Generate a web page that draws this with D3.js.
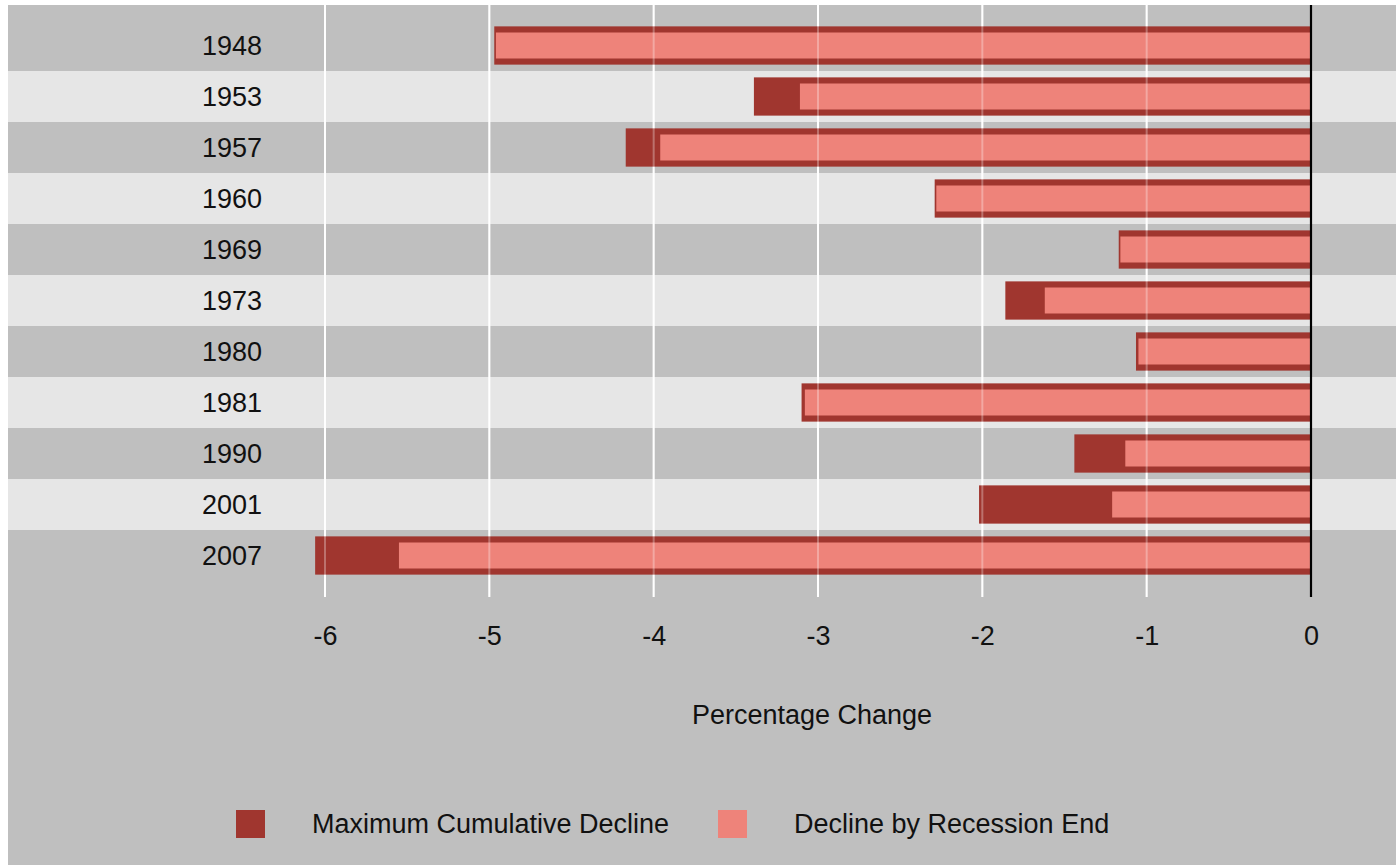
<!DOCTYPE html>
<html>
<head>
<meta charset="utf-8">
<script src="https://cdn.jsdelivr.net/npm/d3@7"></script>
<style>
  body { margin: 0; background: #ffffff; }
  text { font-family: "Liberation Sans", Arial, sans-serif; }
</style>
</head>
<body>
<div id="chart"></div>
<script>
// recession start years, top to bottom
var years = ["1948", "1953", "1957", "1960", "1969", "1973", "1980", "1981", "1990", "2001", "2007"];
// percentage change values
var maxDecline = [-4.97, -3.39, -4.17, -2.29, -1.17, -1.86, -1.065, -3.10, -1.44, -2.02, -6.06];
var endDecline = [-4.96, -3.11, -3.96, -2.28, -1.16, -1.62, -1.05, -3.08, -1.13, -1.21, -5.55];
var xTicks = [-6, -5, -4, -3, -2, -1, 0];
var legendLabels = ["Maximum Cumulative Decline", "Decline by Recession End"];

var width = 1396, height = 865;
var darkRed = "#a0362f", lightRed = "#ee837a";
var fontSize = 27;

var svg = d3.select("#chart").append("svg")
    .attr("width", width)
    .attr("height", height);

// panel background
svg.append("rect")
    .attr("x", 8).attr("y", 5)
    .attr("width", width - 8).attr("height", height - 5)
    .attr("fill", "#bfbfbf");

var x = d3.scaleLinear().domain([-6, 0]).range([325, 1311]);
var y = d3.scaleBand().domain(years).range([20, 581]);

// alternating row bands
svg.selectAll(".band")
    .data(years)
    .enter().append("rect")
    .attr("x", 8)
    .attr("y", function (d) { return y(d); })
    .attr("width", width - 8)
    .attr("height", y.bandwidth())
    .attr("fill", function (d, i) { return i % 2 ? "#e6e6e6" : "#bfbfbf"; });

var gridTicks = xTicks.filter(function (t) { return t !== 0; });

function drawGrid(opacity) {
    svg.append("g").selectAll("line")
        .data(gridTicks)
        .enter().append("line")
        .attr("x1", function (d) { return x(d); })
        .attr("x2", function (d) { return x(d); })
        .attr("y1", 5).attr("y2", 597)
        .attr("stroke", "#ffffff")
        .attr("stroke-opacity", opacity)
        .attr("stroke-width", 2);
}

// vertical gridlines under the bars
drawGrid(1);

var rows = years.map(function (yr, i) {
    return { year: yr, max: maxDecline[i], end: endDecline[i] };
});

var bars = svg.append("g");
var bw = y.bandwidth();

bars.selectAll(".maxbar")
    .data(rows)
    .enter().append("rect")
    .attr("x", function (d) { return x(d.max); })
    .attr("y", function (d) { return y(d.year) + bw * 0.125; })
    .attr("width", function (d) { return x(0) - x(d.max); })
    .attr("height", bw * 0.75)
    .attr("fill", darkRed);

bars.selectAll(".endbar")
    .data(rows)
    .enter().append("rect")
    .attr("x", function (d) { return x(d.end); })
    .attr("y", function (d) { return y(d.year) + bw * 0.245; })
    .attr("width", function (d) { return x(0) - x(d.end); })
    .attr("height", bw * 0.51)
    .attr("fill", lightRed);

// faint gridlines showing through the bars
drawGrid(0.3);

// zero line
svg.append("line")
    .attr("x1", x(0)).attr("x2", x(0))
    .attr("y1", 5).attr("y2", 597)
    .attr("stroke", "#000000")
    .attr("stroke-width", 2.2);

// year labels
svg.selectAll(".ylab")
    .data(years)
    .enter().append("text")
    .attr("x", 262)
    .attr("y", function (d) { return y(d) + bw / 2; })
    .attr("dy", "0.35em")
    .attr("text-anchor", "end")
    .attr("font-size", fontSize)
    .attr("fill", "#111111")
    .text(function (d) { return d; });

// x axis, ticks only, plain hyphen for minus
var xAxis = d3.axisBottom(x).tickValues(xTicks).tickSize(0).tickPadding(0)
    .tickFormat(function (d) { return String(d); });
var ax = svg.append("g").attr("transform", "translate(0,636)").call(xAxis);
ax.select(".domain").remove();
ax.selectAll("text")
    .attr("dy", "0.35em")
    .attr("font-size", fontSize)
    .attr("font-family", "Liberation Sans, Arial, sans-serif")
    .attr("fill", "#111111");

svg.append("text")
    .attr("x", 812).attr("y", 715)
    .attr("dy", "0.35em")
    .attr("text-anchor", "middle")
    .attr("font-size", fontSize)
    .attr("fill", "#111111")
    .text("Percentage Change");

// legend
var legendX = [236, 718];
var legendColors = [darkRed, lightRed];
legendLabels.forEach(function (label, i) {
    svg.append("rect")
        .attr("x", legendX[i]).attr("y", 810)
        .attr("width", 29).attr("height", 28)
        .attr("fill", legendColors[i]);
    svg.append("text")
        .attr("x", legendX[i] + 76).attr("y", 824)
        .attr("dy", "0.35em")
        .attr("font-size", fontSize)
        .attr("fill", "#111111")
        .text(label);
});
</script>
</body>
</html>
